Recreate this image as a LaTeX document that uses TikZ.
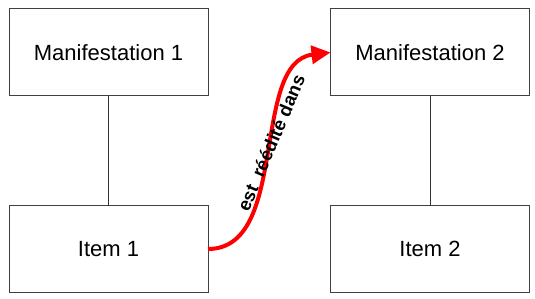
\documentclass[tikz,border=0pt]{standalone}
\usepackage{fontspec}
\setmainfont{Liberation Sans}
\usetikzlibrary{arrows.meta}
\begin{document}
\begin{tikzpicture}[x=1pt,y=-1pt,
  box/.style={draw=black!75,line width=1pt,minimum width=199pt,minimum height=87pt,inner sep=0pt,outer sep=0pt,font=\fontsize{22}{26}\selectfont},
  link/.style={draw=black!80,line width=1pt},
  rel/.style={draw=red,line width=4pt,-{Triangle[length=19pt,width=18pt]}}]
\useasboundingbox (0,0) rectangle (535,299);
\node[box] (m1) at (108.5,52.5) {Manifestation 1};
\node[box] (i1) at (108.5,249) {Item 1};
\node[box] (m2) at (430,52.5) {Manifestation 2};
\node[box] (i2) at (430,249) {Item 2};
\draw[link] (m1) -- (i1);
\draw[link] (m2) -- (i2);
\draw[rel] (i1.east) .. controls (290,249) and (250,62) .. (m2.west);
\node[rotate=67,font=\bfseries\fontsize{18.5}{22}\selectfont,inner sep=0pt] (lab) at (271,143) {est\ \ réédité dans};
\end{tikzpicture}
\end{document}
